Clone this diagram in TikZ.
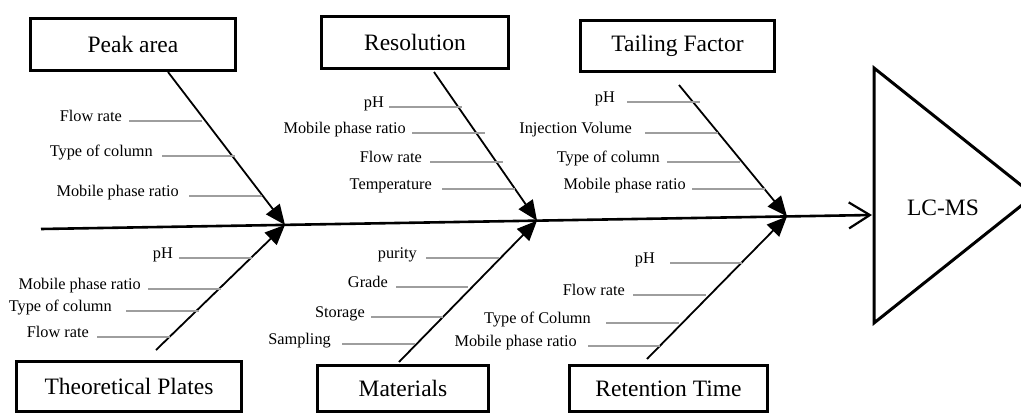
\documentclass[tikz,border=0pt]{standalone}
\usepackage{fontspec}
\setmainfont{Liberation Serif}
\usetikzlibrary{arrows.meta,calc}
\tikzset{
  causebox/.style={draw,line width=3pt,rectangle,inner sep=0pt,font=\fontsize{23.5}{26}\selectfont},
  sublabel/.style={inner sep=0pt,font=\fontsize{16.3}{18}\selectfont},
  subline/.style={draw=black!38,line width=1.3pt},
  branch/.style={line width=1.8pt,-{Triangle[length=20pt,width=17pt]}},
  spine/.style={line width=2.6pt,-{Straight Barb[length=21pt,width=26pt,line width=2.2pt]}},
  effect/.style={line width=3pt,line join=miter}
}
\newcommand\subcause[6]{%
  \node[sublabel,anchor=base east] (#1) at (#3,#5) {#2};
  \coordinate (#1e) at (#6,#5);
  \draw[subline] (#1.base east) ++({#4-#3},0) -- (#1e);}
\begin{document}
\begin{tikzpicture}[x=1pt,y=-1pt]
\useasboundingbox (0,0) rectangle (1021,415);
\clip (0,0) rectangle (1021,415);
\fill[white] (0,0) rectangle (1021,415);

% effect triangle
\coordinate (tA) at (874,68);
\coordinate (tB) at (1034,195.5);
\coordinate (tC) at (874,323);
\draw[effect] (tA) -- (tB) -- (tC) -- cycle;
\node[font=\fontsize{23.5}{26}\selectfont] (lcms) at (943,208) {LC-MS};

% spine
\coordinate (sStart) at (41,229);
\coordinate (sEnd) at (872,215);
\coordinate (j1) at ($(sStart)!0.2936!(sEnd)$);
\coordinate (j2) at ($(sStart)!0.5969!(sEnd)$);
\coordinate (j3) at ($(sStart)!0.8977!(sEnd)$);
\draw[spine] (sStart) -- (sEnd);

% cause boxes
\node[causebox,minimum width=205pt,minimum height=52pt] (peak) at (133,44.5) {Peak area};
\node[causebox,minimum width=187pt,minimum height=52pt] (res) at (415,42.5) {Resolution};
\node[causebox,minimum width=194pt,minimum height=51pt] (tail) at (677.5,46) {Tailing Factor};
\node[causebox,minimum width=225pt,minimum height=50pt] (theo) at (129,386.5) {Theoretical Plates};
\node[causebox,minimum width=171pt,minimum height=46pt] (mat) at (403,388.5) {Materials};
\node[causebox,minimum width=198pt,minimum height=46pt] (ret) at (668.5,388.5) {Retention Time};

% branch start points
\coordinate (bPeak) at (168,72);
\coordinate (bRes) at (434,72);
\coordinate (bTail) at (679,85);
\coordinate (bTheo) at (156,350);
\coordinate (bMat) at (399,362);
\coordinate (bRet) at (647,359);

\draw[branch] (bPeak) -- (j1);
\draw[branch] (bTheo) -- (j1);
\draw[branch] (bRes) -- (j2);
\draw[branch] (bMat) -- (j2);
\draw[branch] (bTail) -- (j3);
\draw[branch] (bRet) -- (j3);

% sub-causes: Peak area
\subcause{pa1}{Flow rate}{122}{129}{121}{202}
\subcause{pa2}{Type of column}{153}{162}{156}{235}
\subcause{pa3}{Mobile phase ratio}{179}{189}{196}{262}
% Resolution
\subcause{re1}{pH}{384}{389}{107}{462}
\subcause{re2}{Mobile phase ratio}{406}{412}{133}{485}
\subcause{re3}{Flow rate}{422}{430}{162}{503}
\subcause{re4}{Temperature}{432}{442}{189}{515}
% Tailing Factor
\subcause{tf1}{pH}{615}{627}{102}{700}
\subcause{tf2}{Injection Volume}{632}{645}{133}{718}
\subcause{tf3}{Type of column}{660}{667}{162}{740}
\subcause{tf4}{Mobile phase ratio}{686}{692}{189}{765}
% Theoretical Plates
\subcause{tp1}{pH}{173}{179}{258}{252}
\subcause{tp2}{Mobile phase ratio}{141}{148}{289}{221}
\subcause{tp3}{Type of column}{112}{126}{311}{199}
\subcause{tp4}{Flow rate}{89}{97}{337}{170}
% Materials
\subcause{ma1}{purity}{417}{426}{258}{499}
\subcause{ma2}{Grade}{388}{396}{287}{468}
\subcause{ma3}{Storage}{365}{371}{317}{443}
\subcause{ma4}{Sampling}{331}{342}{344}{415}
% Retention Time
\subcause{rt1}{pH}{655}{670}{263}{742}
\subcause{rt2}{Flow rate}{625}{633}{295}{706}
\subcause{rt3}{Type of Column}{591}{606}{323}{679}
\subcause{rt4}{Mobile phase ratio}{577}{588}{346}{660}
\end{tikzpicture}
\end{document}
